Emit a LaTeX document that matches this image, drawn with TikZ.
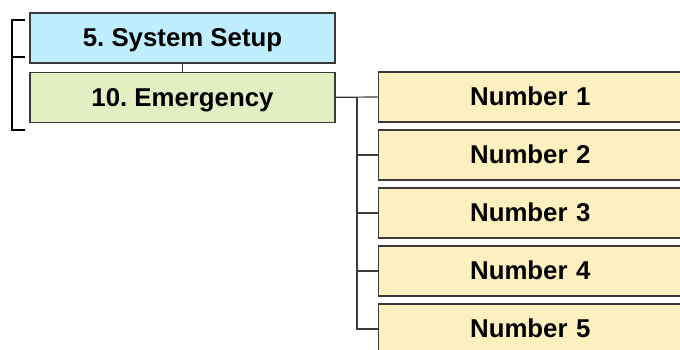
\documentclass[tikz,border=0pt]{standalone}
\usepackage{fontspec}
\setmainfont{Liberation Sans}
\usepackage{xcolor}
\usepackage{tikz}
\usetikzlibrary{positioning, calc}
\definecolor{setupfill}{HTML}{BFEFFF}
\definecolor{emergfill}{HTML}{E3EEC2}
\definecolor{numfill}{HTML}{FFF0C0}
\definecolor{edge}{HTML}{3A3A3A}
\frenchspacing
\tikzset{
  menubox/.style={rectangle, draw=edge, line width=1.3pt, minimum width=305pt, minimum height=50pt, inner sep=0pt, text height=17.4pt, text depth=0pt, font=\fontsize{25.8}{28}\selectfont\bfseries},
  topmenu/.style={menubox, fill=setupfill},
  submenu/.style={menubox, fill=emergfill},
  numbox/.style={menubox, fill=numfill, minimum width=320pt, text width=306pt, align=left},
  link/.style={draw=edge, line width=1.2pt},
  bracket/.style={draw=black, line width=2pt},
}

\begin{document}
\begin{tikzpicture}[x=1pt, y=1pt]
  \useasboundingbox (0,0) rectangle (680,-349);
  \clip (0,0) rectangle (680,-349);

  \node[topmenu] (setup) at (182.5,-38) {5. System Setup};
  \node[submenu, below=8pt of setup] (emerg) {10. Emergency};
  \foreach \i in {1,...,5} {
    \node[numbox, anchor=west] (num\i) at (377.5,{-97-58*(\i-1)}) {\hspace*{85pt}Number \i};
  }

  % left bracket
  \coordinate (brtop) at (25,-20);
  \coordinate (brmid) at (25,-57);
  \coordinate (brbot) at (25,-130);
  \draw[bracket] (brtop) -- ++(-13,0) |- (brbot);
  \draw[bracket] (brmid) -- ++(-13,0);

  % tree links
  \coordinate (trunk) at (357,-97);
  \draw[link] (setup) -- (emerg);
  \draw[link] (emerg.east) -- (num1.west);
  \draw[link] (trunk) |- (num5.west);
  \foreach \i in {2,3,4} {
    \draw[link] (trunk |- num\i.west) -- (num\i.west);
  }
\end{tikzpicture}
\end{document}
